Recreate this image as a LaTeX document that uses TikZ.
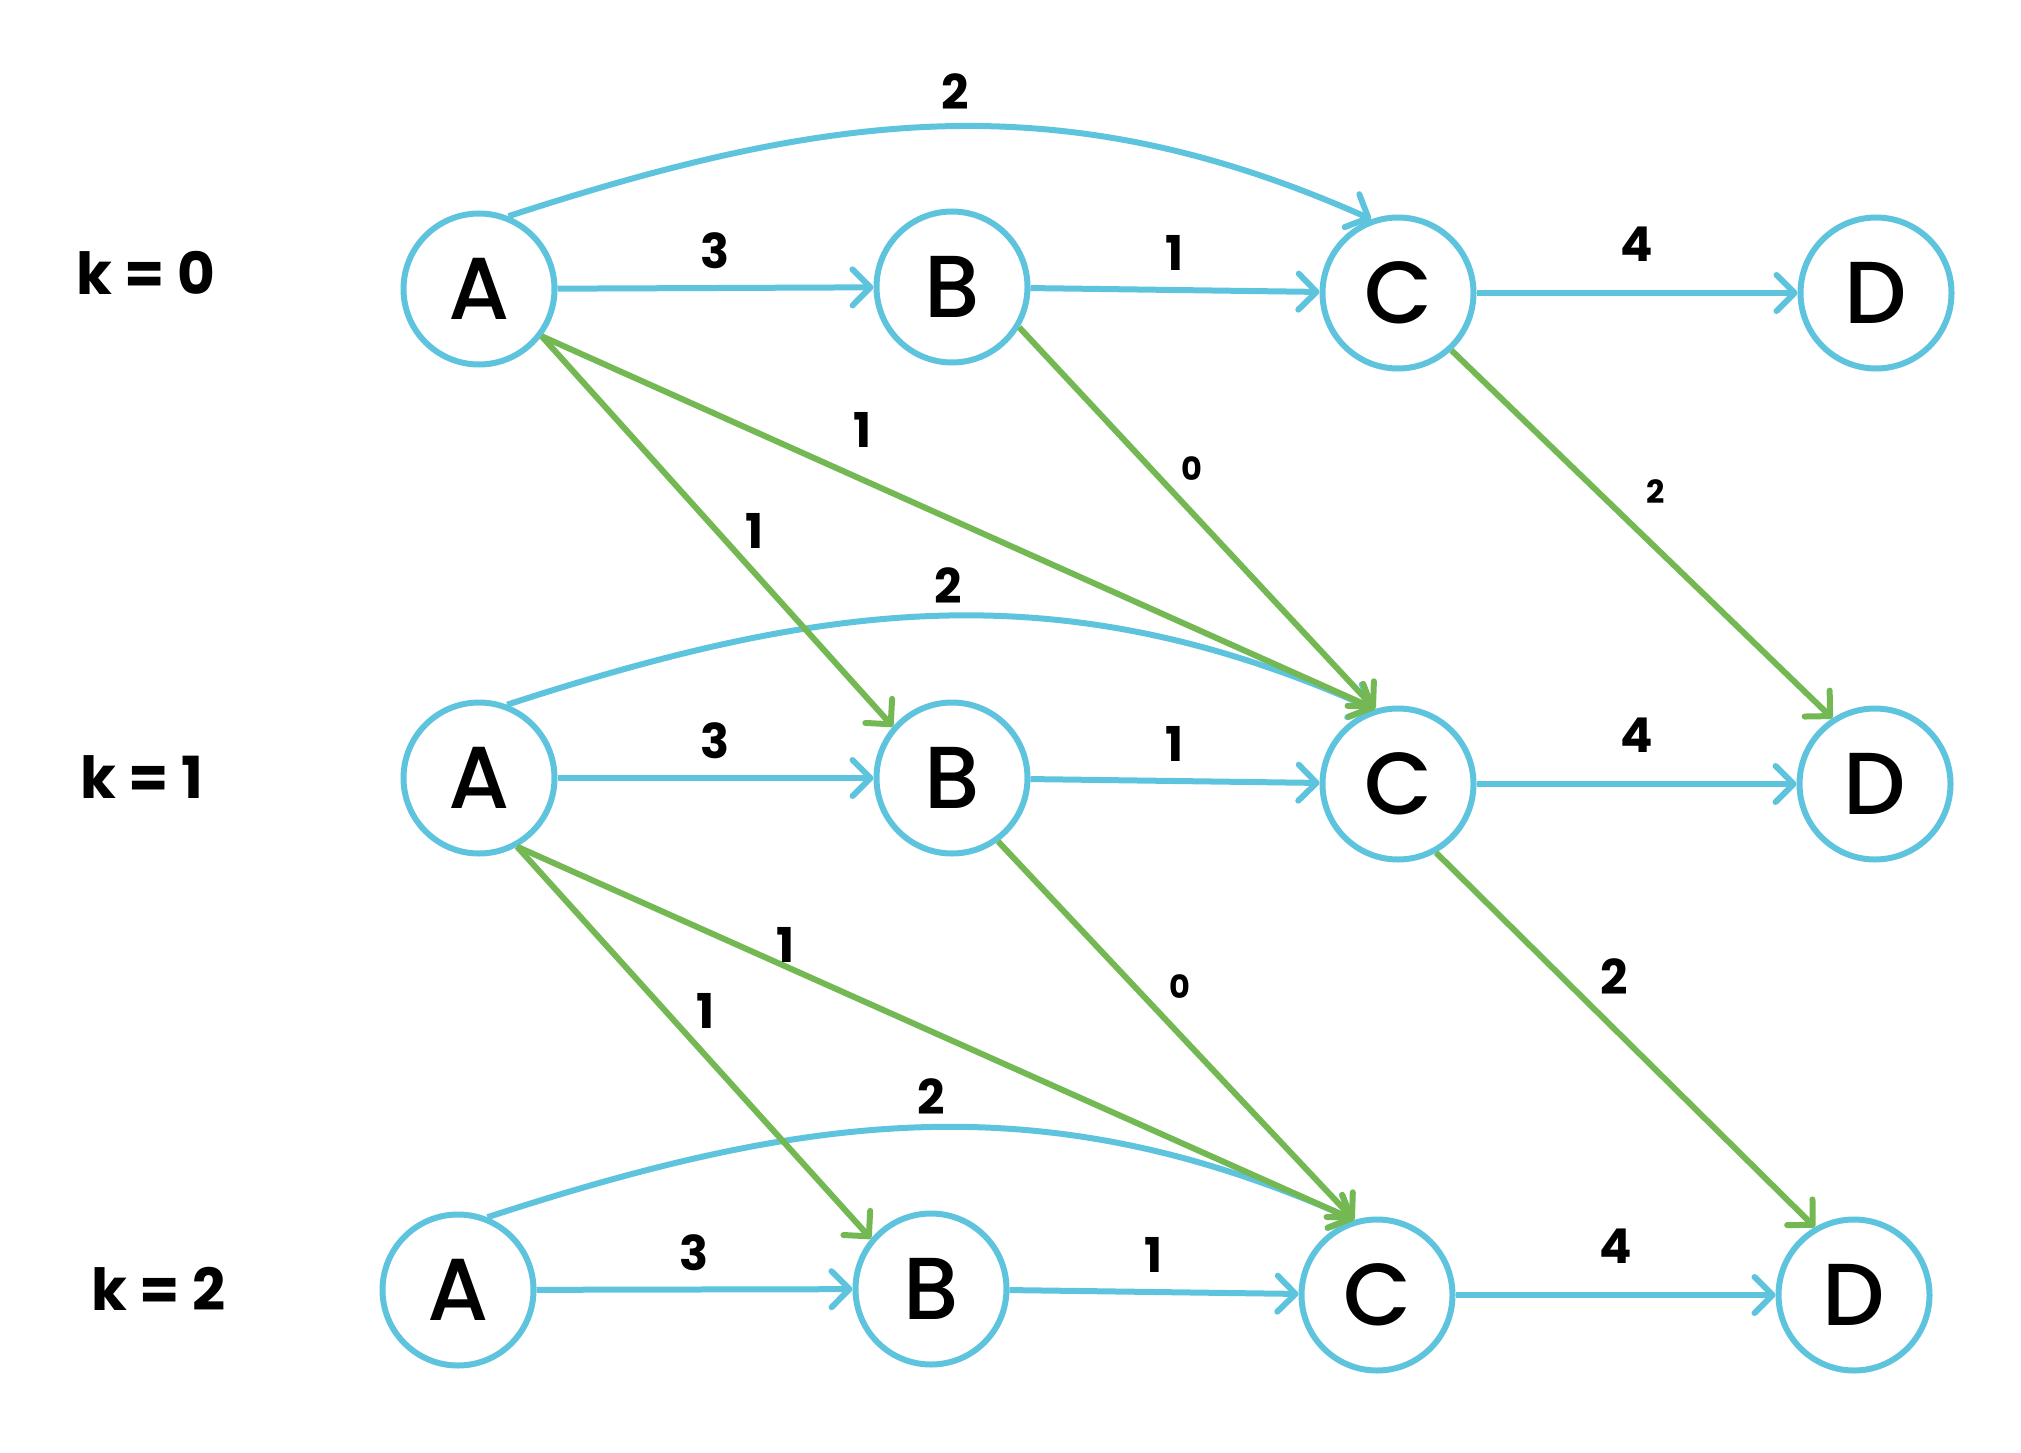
\documentclass[tikz,border=0pt]{standalone}
\usepackage{fontspec}
\setmainfont{Poppins}
\newfontfamily\statefont{Poppins}[UprightFont={* Medium}]
\usetikzlibrary{arrows.meta}
\definecolor{edgeblue}{HTML}{5EC4DE}
\definecolor{edgegreen}{HTML}{74B854}

\begin{document}
\begin{tikzpicture}[x=1pt,y=-1pt,
  state/.style={circle, draw=edgeblue, line width=6pt, minimum size=151pt,
    inner sep=0pt, font=\fontsize{88}{88}\statefont},
  tip/.style={-{Straight Barb[length=18pt,width=36pt,round]}},
  flow/.style={draw=edgeblue, line width=6pt, tip},
  jump/.style={draw=edgegreen, line width=6pt, tip},
  wt/.style={font=\fontsize{48}{48}\selectfont\bfseries, inner sep=0pt, text=black},
  wtsmall/.style={font=\fontsize{32}{32}\selectfont\bfseries, inner sep=0pt, text=black},
  level/.style={font=\fontsize{58}{58}\selectfont\bfseries, anchor=base west, inner sep=0pt}]

\useasboundingbox (0,0) rectangle (2021,1453);

% stage labels
\node[level] (k0) at (76,294)  {k = 0};
\node[level] (k1) at (80,798)  {k = 1};
\node[level] (k2) at (91,1310) {k = 2};

% states, one row per stage
\node[state] (A0) at (479,289)  {A};
\node[state] (B0) at (952,287)  {B};
\node[state] (C0) at (1398,293) {C};
\node[state] (D0) at (1876,293) {D};

\node[state] (A1) at (479,778)  {A};
\node[state] (B1) at (952,778)  {B};
\node[state] (C1) at (1398,784) {C};
\node[state] (D1) at (1875,784) {D};

\node[state] (A2) at (458,1290)  {A};
\node[state] (B2) at (931,1289)  {B};
\node[state] (C2) at (1377,1295) {C};
\node[state] (D2) at (1854,1295) {D};

% moves within a stage
\draw[flow] (A0) -- node[wt, yshift=37pt] {3} (B0);
\draw[flow] (B0) -- node[wt, yshift=37pt] {1} (C0);
\draw[flow] (C0) -- node[wt, yshift=49pt] {4} (D0);
\draw[flow] (A0.68) .. controls +(322,-105) and +(-310,-138) ..
  node[wt, xshift=11pt, yshift=35pt] {2} (C0.110);

\draw[flow] (A1) -- node[wt, yshift=37pt] {3} (B1);
\draw[flow] (B1) -- node[wt, yshift=37pt] {1} (C1);
\draw[flow] (C1) -- node[wt, yshift=49pt] {4} (D1);
\draw[flow] (A1.69) .. controls +(322,-105) and +(-310,-138) ..
  node[wt, xshift=3pt, yshift=30pt] {2} (C1.108);

\draw[flow] (A2) -- node[wt, yshift=37pt] {3} (B2);
\draw[flow] (B2) -- node[wt, yshift=37pt] {1} (C2);
\draw[flow] (C2) -- node[wt, yshift=49pt] {4} (D2);
\draw[flow] (A2.68) .. controls +(322,-105) and +(-310,-138) ..
  node[wt, xshift=6pt, yshift=31pt] {2} (C2.107);

% moves from one stage to the next
\draw[jump] (A0.-37) -- node[wt, pos=0.5, xshift=37pt] {1} (B1.139);
\draw[jump] (A0.-37) -- node[wt, pos=0.385, yshift=50pt] {1} (C1.107);
\draw[jump] (B0.-31) -- node[wtsmall, pos=0.486, yshift=44pt] {0} (C1.107);
\draw[jump] (C0.-47) -- node[wtsmall, pos=0.537, yshift=56pt] {2} (D1.123);

\draw[jump] (A1.-61) -- node[wt, pos=0.42, xshift=40pt] {1} (B2.140);
\draw[jump] (A1.-61) -- node[wt, pos=0.321, yshift=22pt] {1} (C2.107);
\draw[jump] (B1.-54) -- node[wtsmall, pos=0.511, yshift=48pt] {0} (C2.107);
\draw[jump] (C1.-61) -- node[wt, pos=0.47, yshift=52pt] {2} (D2.120);
\end{tikzpicture}
\end{document}
